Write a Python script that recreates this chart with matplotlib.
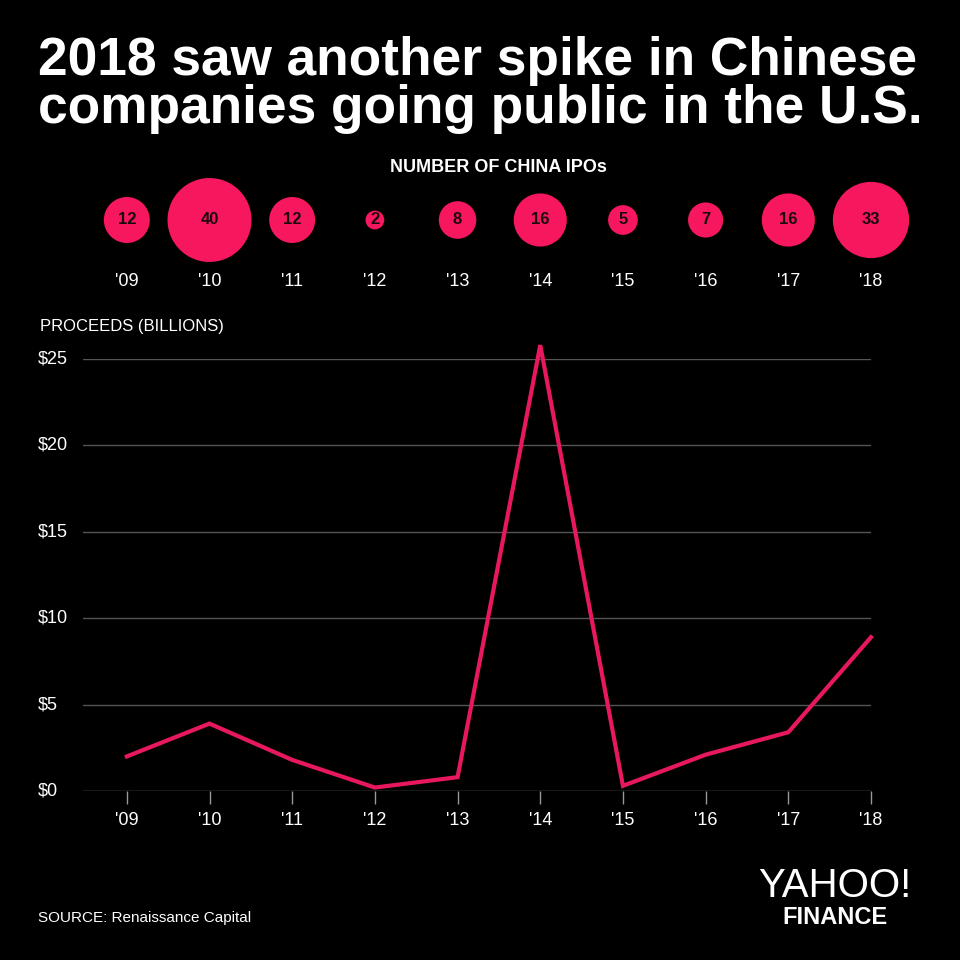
import matplotlib.pyplot as plt
from matplotlib import font_manager as fm
from matplotlib.transforms import blended_transform_factory

years = ["'09", "'10", "'11", "'12", "'13", "'14", "'15", "'16", "'17", "'18"]
ipo_counts = [12, 40, 12, 2, 8, 16, 5, 7, 16, 33]
proceeds = [2.0, 3.9, 1.8, 0.2, 0.8, 25.8, 0.3, 2.1, 3.4, 8.9]
yticks = [0, 5, 10, 15, 20, 25]
ytick_labels = ['$0', '$5', '$10', '$15', '$20', '$25']

names = {f.name for f in fm.fontManager.ttflist}
narrow = 'Liberation Sans Narrow' if 'Liberation Sans Narrow' in names else 'Liberation Sans'
bold = 'Liberation Sans'

pink = '#F7175E'
line_pink = '#E8185D'
grid = '#555555'

W = 960.0
fig = plt.figure(figsize=(9.6, 9.6), dpi=100, facecolor='black')

# title
fig.text(38 / W, 1 - 75 / W, '2018 saw another spike in Chinese', color='white',
         fontsize=38.3, fontweight='bold', family=bold, va='baseline', ha='left')
fig.text(38 / W, 1 - 123 / W, 'companies going public in the U.S.', color='white',
         fontsize=38.3, fontweight='bold', family=bold, va='baseline', ha='left')

# bubble row
fig.text(498 / W, 1 - 167 / W, 'NUMBER OF CHINA IPOs', color='white', fontsize=13,
         fontweight='bold', family=narrow, ha='center', va='center')
x = list(range(len(years)))
left, right = 83 / W, 871 / W
bax = fig.add_axes([left, 1 - 300 / W, right - left, 120 / W])
bax.set_facecolor('black')
bax.set_xlim(-0.53, 9)
bax.set_ylim(0, 120)
bax.axis('off')
bax.scatter(x, [80] * len(x), s=[91.4 * n for n in ipo_counts], color=pink,
            edgecolors='none', clip_on=False)
for xi, n, yr in zip(x, ipo_counts, years):
    bax.text(xi, 80, str(n), color='#1a0a10', fontsize=12, fontweight='bold',
             family=narrow, ha='center', va='center')
    bax.text(xi, 19, yr, color='white', fontsize=13, family=narrow,
             ha='center', va='center')

# line chart
ax = fig.add_axes([left, 1 - 791 / W, right - left, (791 - 359) / W])
ax.set_facecolor('black')
ax.set_xlim(-0.53, 9)
ax.set_ylim(0, 25)
for s in ax.spines.values():
    s.set_visible(False)
for t in yticks:
    ax.axhline(t, color=grid if t else '#777777', lw=1, zorder=1)
ax.plot(x, proceeds, color=line_pink, lw=3, zorder=3, clip_on=False,
        solid_joinstyle='miter')
ax.set_yticks([])
ax.set_xticks(x)
ax.set_xticklabels(years, color='white', fontsize=13, family=narrow)
ax.tick_params(axis='x', length=9, width=1, color='#999999', pad=6)

tr = blended_transform_factory(fig.transFigure, ax.transData)
for t, lab in zip(yticks, ytick_labels):
    ax.text(38 / W, t, lab, transform=tr, color='white', fontsize=13,
            family=narrow, ha='left', va='center')

fig.text(40 / W, 1 - 327 / W, 'PROCEEDS (BILLIONS)', color='white', fontsize=12,
         family=narrow, ha='left', va='center')

# footer
fig.text(38 / W, 1 - 918 / W, 'SOURCE: Renaissance Capital', color='white',
         fontsize=11, family=narrow, ha='left', va='center')
fig.text(835 / W, 1 - 886 / W, 'YAHOO!', color='white', fontsize=29,
         family=narrow, ha='center', va='center')
fig.text(835 / W, 1 - 917 / W, 'FINANCE', color='white', fontsize=17,
         fontweight='bold', family=narrow, ha='center', va='center')

fig.savefig('out.png', dpi=100, facecolor='black')
